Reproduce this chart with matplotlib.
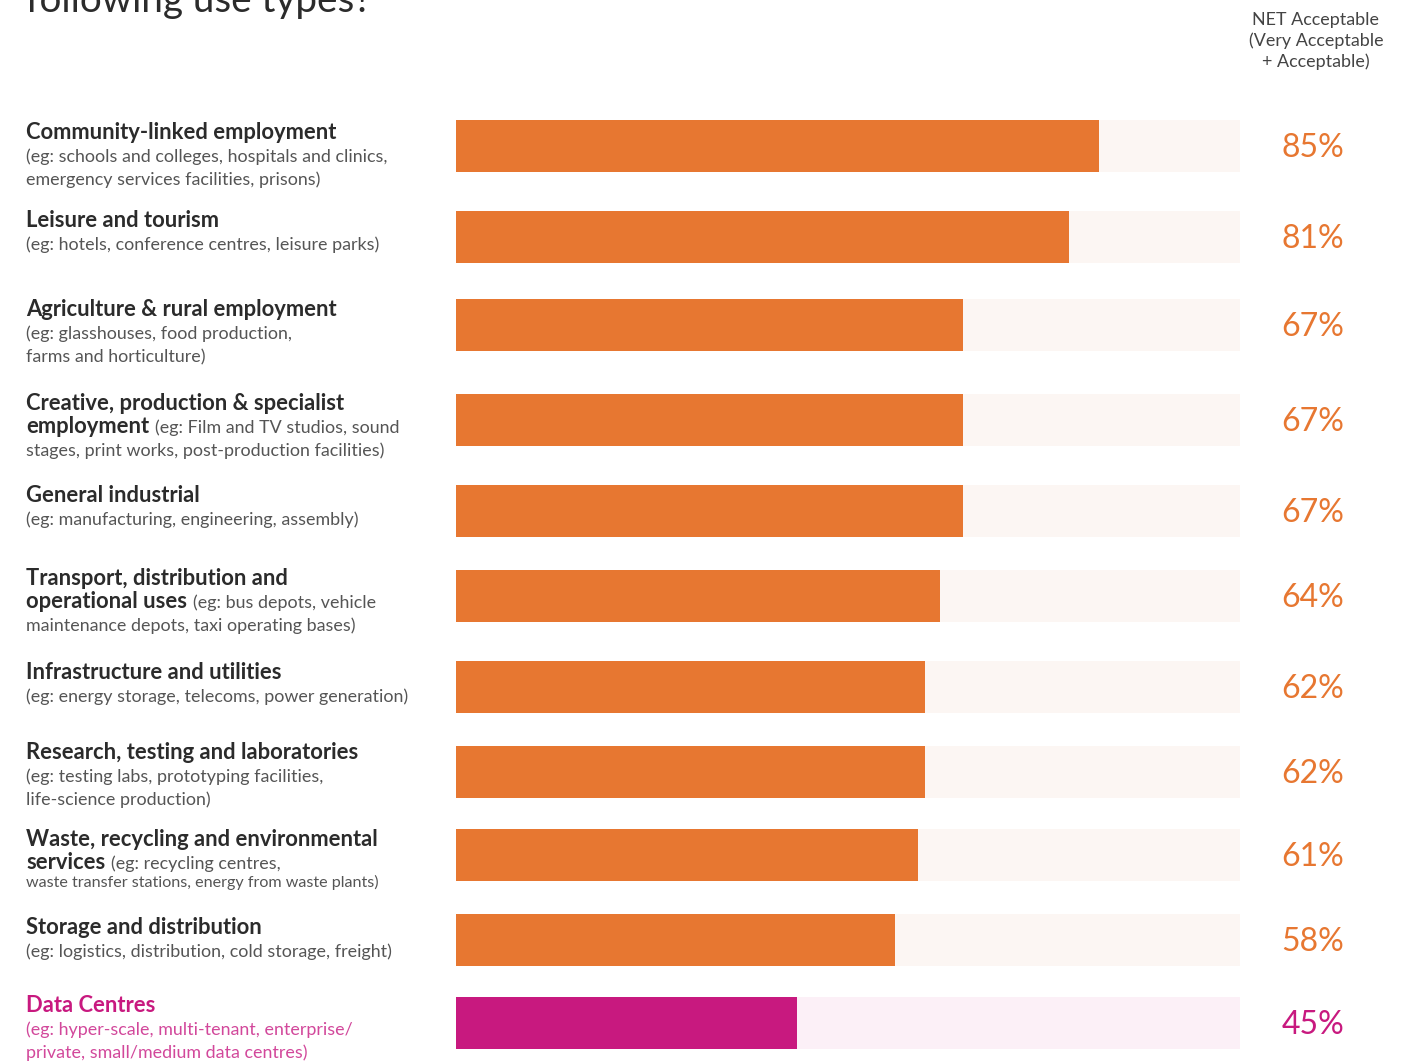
import matplotlib.pyplot as plt

# datos
categorias = [
    "Community-linked employment",
    "Leisure and tourism",
    "Agriculture & rural employment",
    "Creative, production & specialist",
    "General industrial",
    "Transport, distribution and",
    "Infrastructure and utilities",
    "Research, testing and laboratories",
    "Waste, recycling and environmental",
    "Storage and distribution",
    "Data Centres",
]
# segunda linea: (parte en negrita, resto)
segunda_linea = [
    ("", "(eg: schools and colleges, hospitals and clinics,"),
    ("", "(eg: hotels, conference centres, leisure parks)"),
    ("", "(eg: glasshouses, food production,"),
    ("employment", "(eg: Film and TV studios, sound"),
    ("", "(eg: manufacturing, engineering, assembly)"),
    ("operational uses", "(eg: bus depots, vehicle"),
    ("", "(eg: energy storage, telecoms, power generation)"),
    ("", "(eg: testing labs, prototyping facilities,"),
    ("services", "(eg: recycling centres,"),
    ("", "(eg: logistics, distribution, cold storage, freight)"),
    ("", "(eg: hyper-scale, multi-tenant, enterprise/"),
]
tercera_linea = [
    "emergency services facilities, prisons)",
    "",
    "farms and horticulture)",
    "stages, print works, post-production facilities)",
    "",
    "maintenance depots, taxi operating bases)",
    "",
    "life-science production)",
    "waste transfer stations, energy from waste plants)",
    "",
    "private, small/medium data centres)",
]
valores = [85, 81, 67, 67, 67, 64, 62, 62, 61, 58, 45]

# posiciones (pixeles) de cada barra
y_barras = [146, 237, 325, 420, 511, 596, 687, 772, 855, 940, 1023]
# centro de la primera linea de texto de cada fila
y_titulos = [132, 220, 309, 403, 495, 578, 672, 752, 839, 927, 1005]

W, H = 1414, 1064
px_por_pct = 7.57
x0 = 456
fondo_max = (1240 - x0) / px_por_pct

naranja = "#E77731"
naranja_fondo = "#FCF6F3"
rosa = "#C8197F"
rosa_fondo = "#FCF0F7"

plt.rcParams['font.family'] = ['Lato', 'DejaVu Sans']

fig = plt.figure(figsize=(W / 100, H / 100), dpi=100)
ax = fig.add_axes([0, 0, 1, 1])
ax.set_xlim(-x0 / px_por_pct, (W - x0) / px_por_pct)
ax.set_ylim(H, 0)
ax.axis('off')

colores = [naranja] * (len(valores) - 1) + [rosa]
fondos = [naranja_fondo] * (len(valores) - 1) + [rosa_fondo]

ax.barh(y_barras, [fondo_max] * len(valores), height=52, left=0, color=fondos)
ax.barh(y_barras, valores, height=52, left=0, color=colores)

def fy(y):
    return 1 - y / H

fig.canvas.draw()
renderer = fig.canvas.get_renderer()

fs_tit = 15.8
fs_desc = 12.9

for i, cat in enumerate(categorias):
    yb = y_barras[i]
    dc = i == len(categorias) - 1
    c_tit = rosa if dc else "#2b2b2b"
    c_desc = "#D2489B" if dc else "#555555"
    top = y_titulos[i]
    fig.text(26 / W, fy(top + 7), cat, fontsize=fs_tit, fontweight='bold',
             color=c_tit, va='baseline', ha='left')
    negrita, resto = segunda_linea[i]
    xl = 26
    if negrita:
        t = fig.text(26 / W, fy(top + 30), negrita, fontsize=fs_tit, fontweight='bold',
                     color=c_tit, va='baseline', ha='left')
        bb = t.get_window_extent(renderer)
        xl = bb.x1 + 6
    fig.text(xl / W, fy(top + 30), resto, fontsize=fs_desc, color=c_desc,
             va='baseline', ha='left')
    if tercera_linea[i]:
        fs = 11.6 if i == 8 else fs_desc
        dy = 48 if i == 8 else 53
        fig.text(26 / W, fy(top + dy), tercera_linea[i], fontsize=fs, color=c_desc,
                 va='baseline', ha='left')
    ax.text(fondo_max + (1313 - 1240) / px_por_pct, yb + 2, f"{valores[i]}%",
            fontsize=23, fontweight='normal', color=colores[i],
            ha='center', va='center')

fig.text(26 / W, fy(12), "following use types?", fontsize=27.8, color="#2b2b2b",
         va='baseline', ha='left')
fig.text(1316 / W, fy(41), "NET Acceptable\n(Very Acceptable\n+ Acceptable)",
         fontsize=12.9, color="#444444", ha='center', va='center', linespacing=1.35)

fig.savefig('out.png', dpi=100)
